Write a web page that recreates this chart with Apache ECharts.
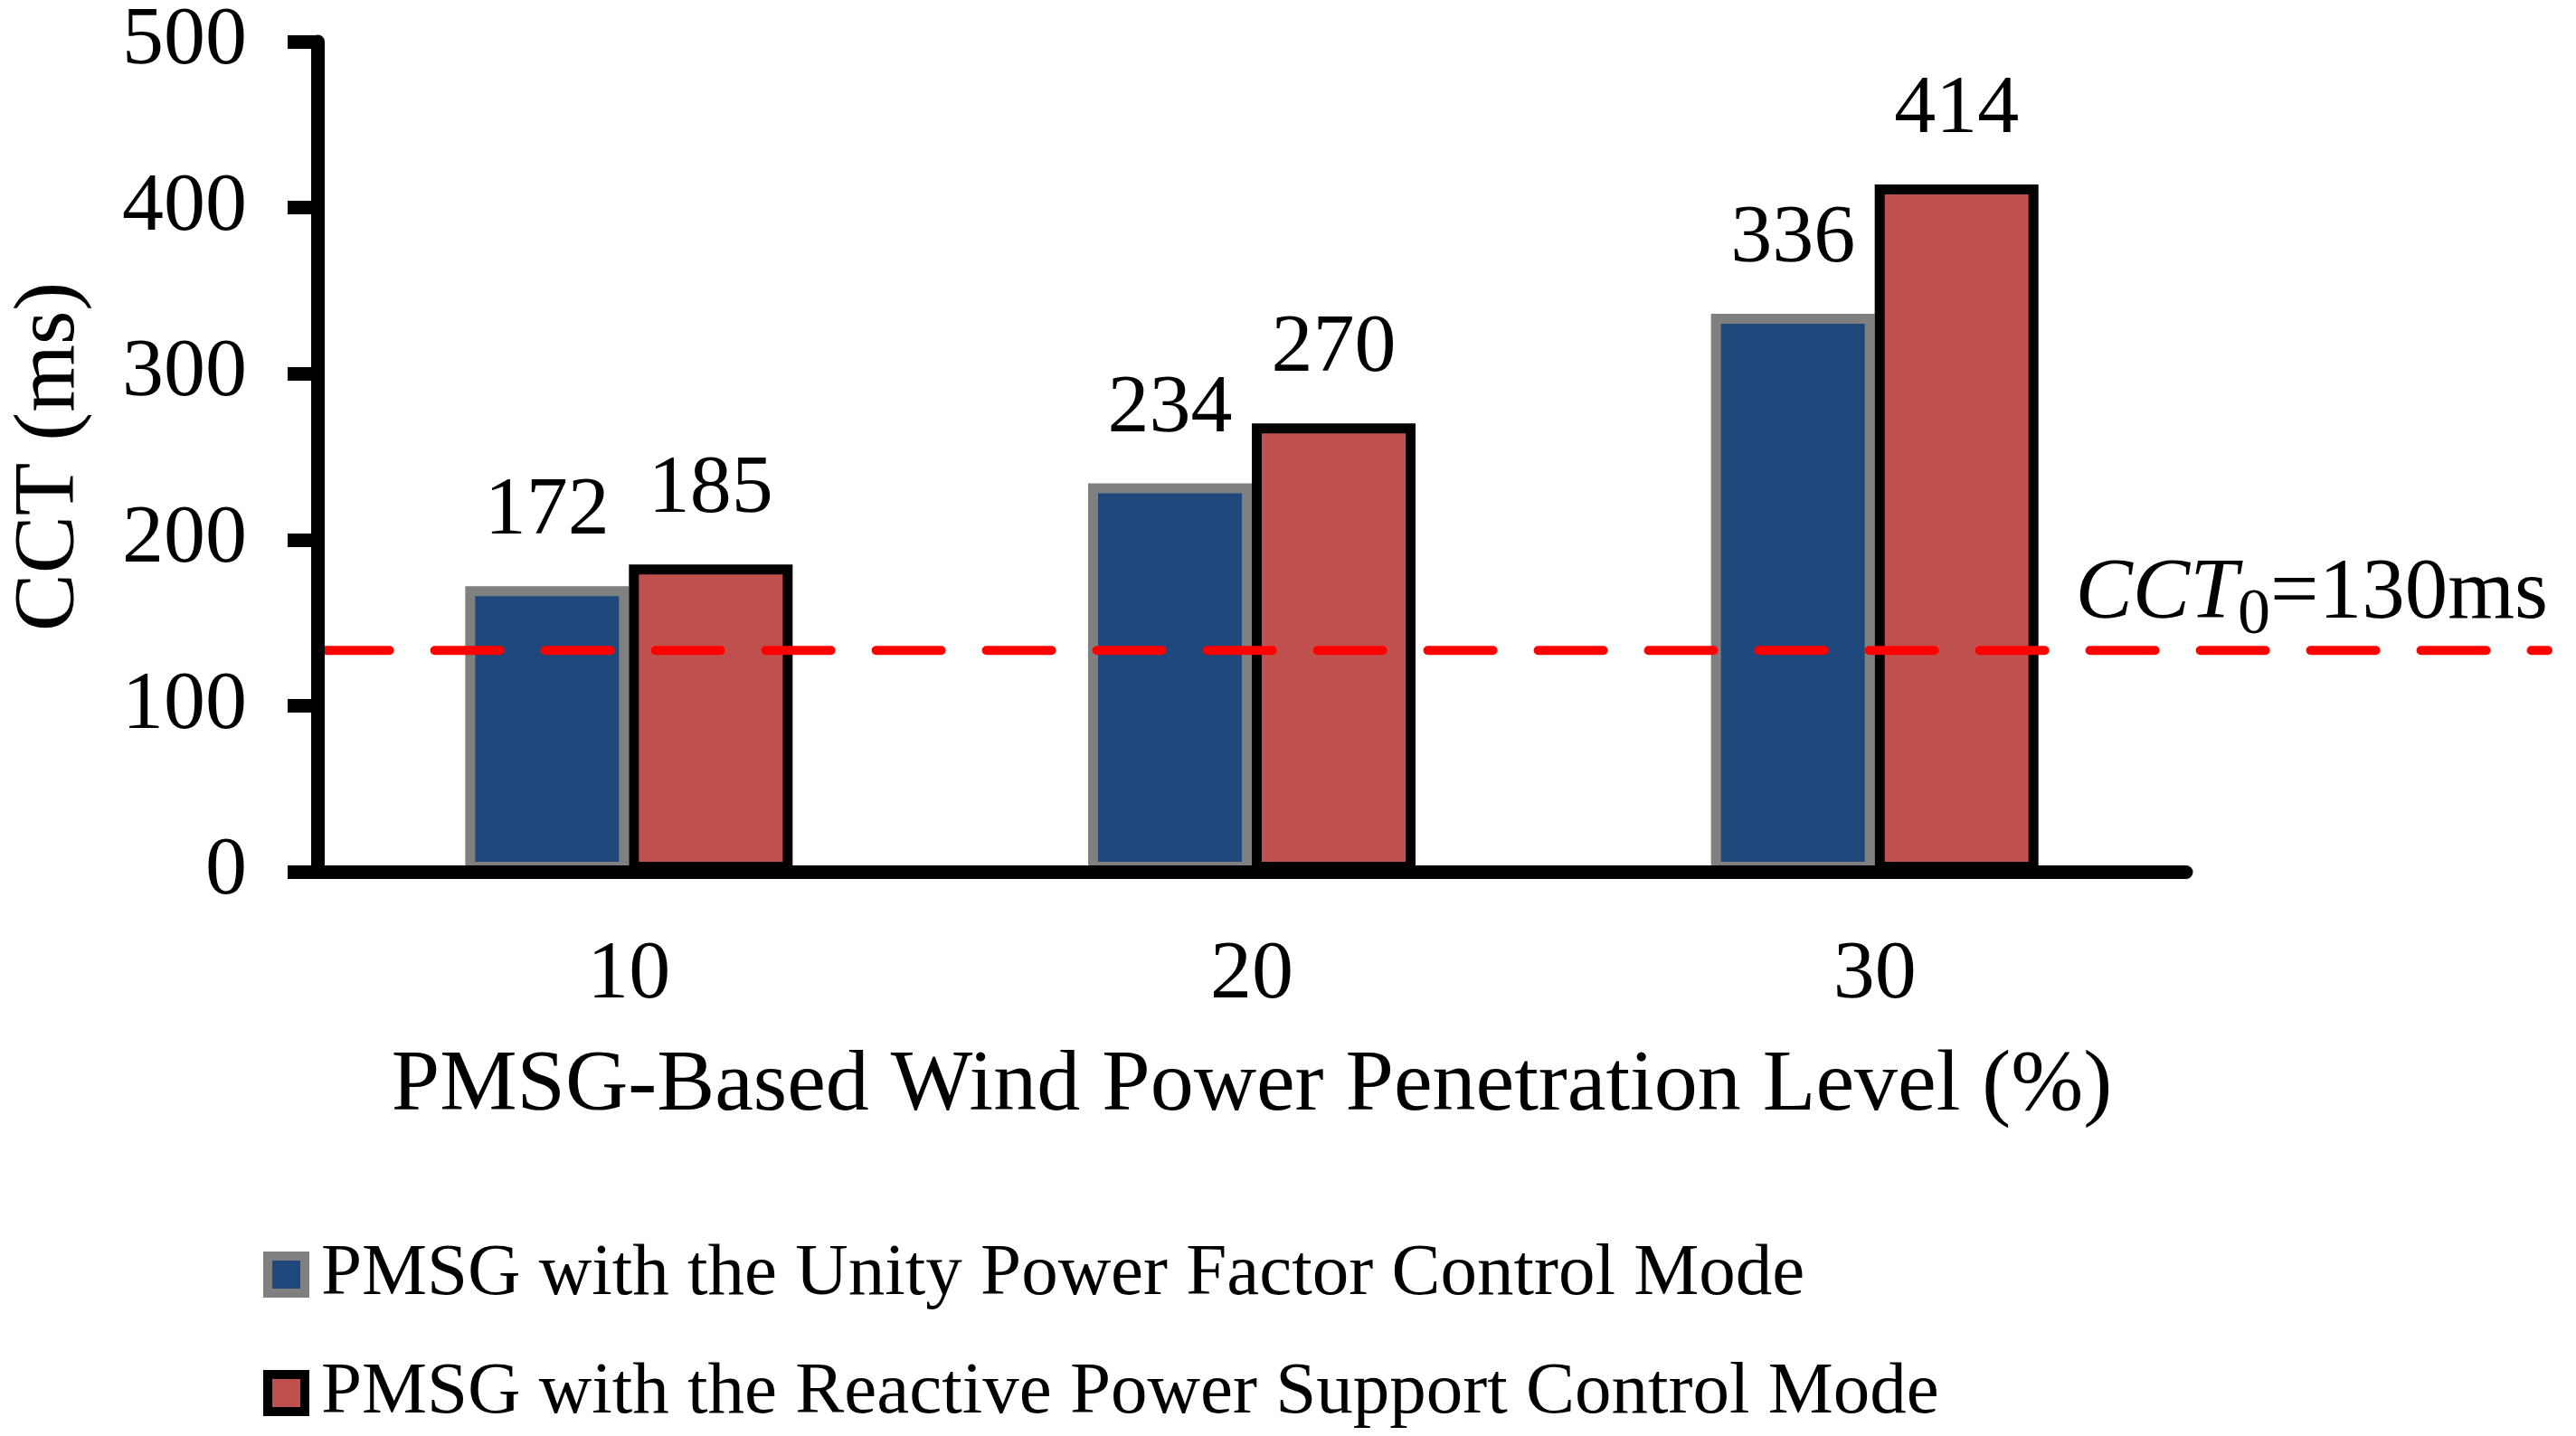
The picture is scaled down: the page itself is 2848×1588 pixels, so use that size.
<!DOCTYPE html>
<html><head><meta charset="utf-8">
<script src="https://cdn.jsdelivr.net/npm/echarts@6/dist/echarts.min.js"></script>
<style>html,body{margin:0;padding:0;background:#fff}#c{width:2848px;height:1588px}</style>
</head><body><div id="c"></div>
<script>
// ---- data ----
const categories = ['10', '20', '30'];
const unityPowerFactor = [172, 234, 336];
const reactiveSupport = [185, 270, 414];
const cct0Level = 133;            // level at which the dashed CCT0 line is drawn
const cct0Label = ['CCT', '0', '=130ms'];
const seriesNames = [
  'PMSG with the Unity Power Factor Control Mode',
  'PMSG with the Reactive Power Support Control Mode'
];
const yMin = 0, yMax = 500, yInterval = 100;
const xAxisName = 'PMSG-Based Wind Power Penetration Level (%)';
const yAxisName = 'CCT (ms)';

const FONT = "'Liberation Serif', 'Times New Roman', serif";
const chart = echarts.init(document.getElementById('c'), null, {renderer: 'canvas'});

chart.setOption({
  animation: false,
  backgroundColor: '#fff',
  grid: [
    {left: 350, top: 44, width: 2067, height: 920},
    {left: 358.6, top: 44, width: 2458.4, height: 920}
  ],
  legend: {
    data: seriesNames,
    orient: 'vertical',
    left: 286, top: 1364,
    itemWidth: 41, itemHeight: 41, itemGap: 50,
    icon: 'rect',
    itemStyle: {borderWidth: 10},
    textStyle: {fontSize: 81, fontFamily: FONT, color: '#000', padding: [0, 0, 0, 13], lineHeight: 81}
  },
  xAxis: [{
    type: 'category', gridIndex: 0, data: categories, z: 10,
    axisLine: {show: true, lineStyle: {color: '#000', width: 15}},
    axisTick: {show: false},
    axisLabel: {fontSize: 92, fontFamily: FONT, color: '#000', margin: 69},
    splitLine: {show: false},
    name: xAxisName, nameLocation: 'middle', nameGap: 190,
    nameTextStyle: {fontSize: 96, fontFamily: FONT, color: '#000'}
  }, {
    type: 'value', gridIndex: 1, min: 0, max: 1, show: false
  }],
  yAxis: [{
    type: 'value', gridIndex: 0, min: yMin, max: yMax, interval: yInterval, z: 10,
    axisLine: {show: true, lineStyle: {color: '#000', width: 15}},
    axisTick: {show: true, length: 33, lineStyle: {color: '#000', width: 15}},
    axisLabel: {fontSize: 92, fontFamily: FONT, color: '#000', margin: 78},
    splitLine: {show: false},
    name: yAxisName, nameLocation: 'middle', nameGap: 247,
    nameTextStyle: {fontSize: 96, fontFamily: FONT, color: '#000'}
  }, {
    type: 'value', gridIndex: 1, min: yMin, max: yMax, show: false
  }],
  series: [{
    name: seriesNames[0], type: 'bar', xAxisIndex: 0, yAxisIndex: 0,
    data: unityPowerFactor, barWidth: 181, barGap: '0%',
    itemStyle: {color: '#1F497D', borderColor: '#808080', borderWidth: 11},
    label: {show: true, position: 'top', distance: 36, fontSize: 92, fontFamily: FONT, color: '#000'}
  }, {
    name: seriesNames[1], type: 'bar', xAxisIndex: 0, yAxisIndex: 0,
    data: reactiveSupport, barWidth: 181, barGap: '0%',
    itemStyle: {color: '#C0504D', borderColor: '#000000', borderWidth: 11},
    label: {show: true, position: 'top', distance: 36, fontSize: 92, fontFamily: FONT, color: '#000'}
  }, {
    type: 'line', xAxisIndex: 1, yAxisIndex: 1, silent: true, z: 5,
    symbol: 'circle', symbolSize: 0,
    lineStyle: {color: '#FF0000', width: 10, type: [72, 50], cap: 'round'},
    data: [
      [0, cct0Level],
      {value: [1, cct0Level], label: {
        show: true, position: 'top', align: 'right', distance: 2,
        formatter: '{i|' + cct0Label[0] + '}{s|' + cct0Label[1] + '}{n|' + cct0Label[2] + '}',
        rich: {
          i: {fontSize: 95, fontFamily: FONT, fontStyle: 'italic', color: '#000', lineHeight: 95, verticalAlign: 'bottom', padding: [0, 0, 12, 0]},
          s: {fontSize: 72, fontFamily: FONT, color: '#000', lineHeight: 72, verticalAlign: 'bottom'},
          n: {fontSize: 95, fontFamily: FONT, color: '#000', lineHeight: 95, verticalAlign: 'bottom', padding: [0, 0, 12, 0]}
        }
      }}
    ]
  }]
});
</script></body></html>
